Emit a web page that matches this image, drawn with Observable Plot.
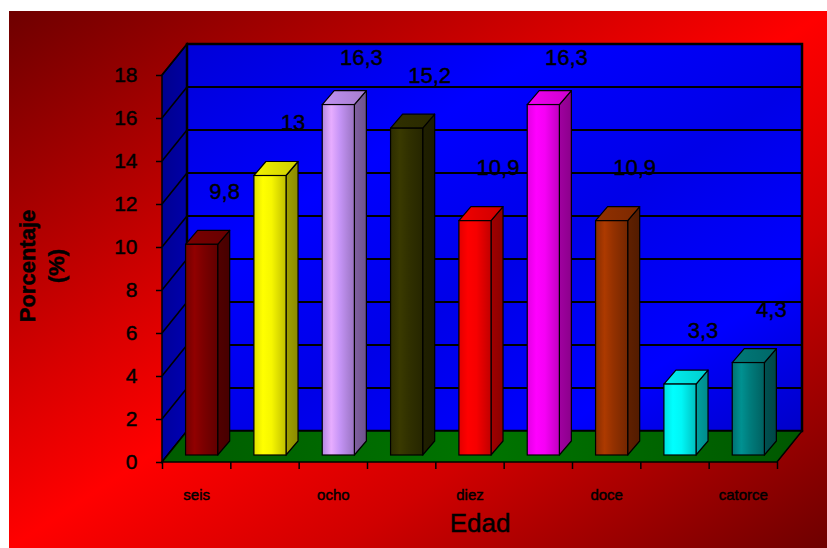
<!DOCTYPE html>
<html><head><meta charset="utf-8">
<script src="https://cdn.jsdelivr.net/npm/d3@7"></script>
<script src="https://cdn.jsdelivr.net/npm/@observablehq/plot@0.6"></script>
<style>
body{margin:0;background:#fff;}
#wrap{position:relative;width:827px;height:548px;overflow:hidden;background:#fff;}
#bg{position:absolute;left:9px;top:11px;right:0;bottom:0;background:linear-gradient(to bottom right,#6e0000 0%,#d80000 36%,#ff0000 50%,#d00000 70%,#6e0000 100%);}
#chart{position:absolute;left:0;top:0;}
#chart text{stroke:#000;stroke-width:0.45px;}
g[aria-label="ylabel"] text{letter-spacing:1.6px;stroke-width:0.2px;}
</style></head><body>
<div id="wrap"><div id="bg"></div><div id="chart"></div></div>
<script>
// ---- data ----
const categories = ["seis","siete","ocho","nueve","diez","once","doce","trece","catorce"];
const values = [9.8, 13, 16.3, 15.2, 10.9, 16.3, 10.9, 3.3, 4.3];
const barColors = ["#800000","#ffff00","#cc99ff","#333300","#ff0000","#ff00ff","#993300","#00ffff","#008080"];
const yTicks = [0,2,4,6,8,10,12,14,16,18];
const labeledCategories = ["seis","ocho","diez","doce","catorce"];
const yTitle = "Porcentaje\n(%)";
const xTitle = "Edad";

const data = categories.map((c, i) => ({cat: c, i, value: values[i], color: barColors[i]}));

// ---- gradients ----
const defs = d3.select("body").append("svg").attr("width", 0).attr("height", 0)
  .style("position", "absolute").append("defs");
function lin(id, stops, x2 = 1, y2 = 0) {
  const g = defs.append("linearGradient").attr("id", id)
    .attr("x1", 0).attr("y1", 0).attr("x2", x2).attr("y2", y2);
  stops.forEach(([o, c]) => g.append("stop").attr("offset", o).attr("stop-color", c));
}
barColors.forEach((c, i) => {
  const b = d3.color(c);
  lin("front" + i, [[0, b.darker(0.35)], [0.28, b.brighter(0.35)], [0.55, b.darker(0.1)], [1, b.darker(0.8)]]);
  lin("side" + i, [[0, b.darker(1.3)], [1, b.darker(1.7)]]);
  lin("top" + i, [[0, b.darker(0.15)], [1, b.darker(0.6)]]);
});
lin("backWall", [[0, "#0000d8"], [0.3, "#0000ff"], [0.55, "#0000e8"], [0.8, "#0000ff"], [1, "#0000c8"]], 1, 1);
lin("sideWall", [[0, "#00008c"], [1, "#0000b4"]], 1, 1);
lin("floor", [[0, "#005c00"], [0.5, "#007400"], [1, "#005800"]]);

// ---- geometry (pixel depths of the pseudo-3D look) ----
const DX = 25, DY = -31;    // depth of the chart box
const FDX = 0, FDY = -7;    // front plane of the bars
const BDX = 12, BDY = -14;  // depth of each bar
const insL = 0.345, insR = 0.185; // bar insets as band fractions

const walls = (index, {x, y}) => {
  const X0 = x(0), X1 = x(categories.length), Y0 = y(0), Yt = y(d3.max(yTicks));
  const g = d3.create("svg:g");
  g.append("polygon").attr("points", [[X0, Y0], [X0, Yt], [X0 + DX, Yt + DY], [X0 + DX, Y0 + DY]].join(" "))
    .attr("fill", "url(#sideWall)").attr("stroke", "#000").attr("stroke-width", 1.5);
  g.append("rect").attr("x", X0 + DX).attr("y", Yt + DY).attr("width", X1 - X0).attr("height", Y0 - Yt)
    .attr("fill", "url(#backWall)").attr("stroke", "#000").attr("stroke-width", 2.5);
  yTicks.forEach(t => {
    const yy = y(t);
    g.append("line").attr("x1", X0).attr("y1", yy).attr("x2", X0 + DX).attr("y2", yy + DY)
      .attr("stroke", "#000").attr("stroke-width", 1.6);
    if (t > 0 && t < d3.max(yTicks))
      g.append("line").attr("x1", X0 + DX).attr("y1", yy + DY).attr("x2", X1 + DX).attr("y2", yy + DY)
        .attr("stroke", "#000").attr("stroke-width", 2);
  });
  g.append("polygon").attr("points", [[X0, Y0], [X1, Y0], [X1 + DX, Y0 + DY], [X0 + DX, Y0 + DY]].join(" "))
    .attr("fill", "url(#floor)").attr("stroke", "#000").attr("stroke-width", 1.5);
  return g.node();
};

const barSides = (index, {x, y}) => {
  const g = d3.create("svg:g").attr("stroke", "#000").attr("stroke-width", 1.2).attr("stroke-linejoin", "round");
  data.forEach(d => {
    const bw = x(d.i + 1) - x(d.i);
    const xl = x(d.i) + insL * bw + FDX, xr = x(d.i + 1) - insR * bw + FDX;
    const yb = y(0) + FDY, yt = y(d.value) + FDY;
    g.append("polygon").attr("points", [[xr, yb], [xr, yt], [xr + BDX, yt + BDY], [xr + BDX, yb + BDY]].join(" "))
      .attr("fill", `url(#side${d.i})`);
    g.append("polygon").attr("points", [[xl, yt], [xr, yt], [xr + BDX, yt + BDY], [xl + BDX, yt + BDY]].join(" "))
      .attr("fill", `url(#top${d.i})`);
  });
  return g.node();
};

const chart = Plot.plot({
  width: 827,
  height: 548,
  marginLeft: 162,
  marginRight: 50,
  marginTop: 75,
  marginBottom: 86,
  style: {background: "transparent", fontFamily: "'Liberation Sans', Arial, sans-serif", color: "#000", overflow: "visible"},
  x: {domain: [0, categories.length], axis: null},
  y: {domain: [0, d3.max(yTicks)], axis: null},
  color: {type: "identity"},
  marks: [
    walls,
    barSides,
    Plot.rectY(data, {
      x1: "i", x2: d => d.i + 1, y1: 0, y2: "value",
      insetLeft: insL * 68.3, insetRight: insR * 68.3, dx: FDX, dy: FDY,
      fill: d => `url(#front${d.i})`, stroke: "#000", strokeWidth: 1.2
    }),
    Plot.axisY({ticks: yTicks, tickSize: 6, tickPadding: 19, fontSize: 21, stroke: "#000", strokeWidth: 1.5, fill: "#000", label: null}),
    Plot.axisX({ticks: d3.range(categories.length + 1), tickSize: 7, tickFormat: () => "", stroke: "#000", strokeWidth: 1.5, label: null}),
    Plot.axisX({
      ticks: labeledCategories.map(c => categories.indexOf(c) + 0.5),
      tickFormat: v => categories[Math.floor(v)],
      tickSize: 0, tickPadding: 27, fontSize: 15, fill: "#000", label: null
    }),
    Plot.text(data, {
      x: d => d.i + 0.5, y: d => Math.min(d.value + 2.8, 18.8),
      text: d => String(d.value).replace(".", ","),
      dx: 28, fontSize: 22, fill: "#000"
    }),
    Plot.text([xTitle], {frameAnchor: "bottom", dx: 10, dy: 69, fontSize: 26, fill: "#000"}),
    Plot.text([yTitle], {frameAnchor: "left", textAnchor: "middle", dx: -122, dy: -3, rotate: -90, fontSize: 22, fontWeight: "bold", lineHeight: 1.3, fill: "#000", ariaLabel: "ylabel"})
  ]
});
document.getElementById("chart").append(chart);
</script>
</body></html>
